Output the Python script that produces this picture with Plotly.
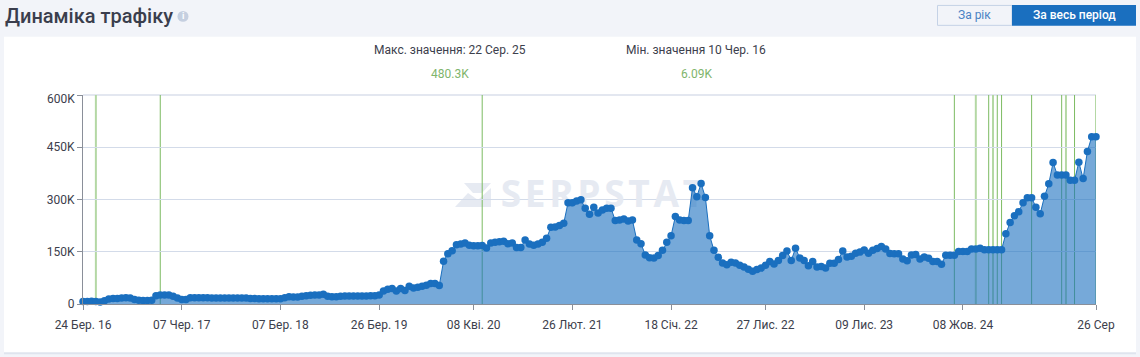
import plotly.graph_objects as go

traffic_start = [7, 7, 8, 7, 6.09, 9, 14, 16, 16, 17, 18, 17, 13, 11, 10, 10, 11, 24, 26, 26, 26, 22, 17, 13, 13, 18,
                 18, 18, 18, 18, 17, 17, 17, 17, 17, 17, 17, 17, 17, 16, 16, 15, 15, 15, 15, 15,
                 15, 18, 21, 20, 20, 22, 24, 25, 26, 26, 28, 22, 21, 21, 22, 23, 23, 23, 23, 23, 23, 24, 24, 26]
traffic_mid = [37, 42, 44.5, 37, 44.5, 39, 51, 46, 48, 51, 54, 59, 59, 53,
               123, 144, 153, 170, 172, 175, 169, 167, 167, 168, 161, 175, 177, 179, 180,
               173, 175, 162, 162, 184, 172, 169, 172, 177, 189, 220, 221, 225, 232, 291,
               291, 296, 299, 275, 258, 278, 261, 270, 275, 275, 240, 241, 244, 238, 241,
               184, 173, 141, 133, 132, 139, 154, 177, 196, 251, 241, 240, 240, 334, 308,
               346, 306, 196, 154, 134, 118, 113, 120, 118, 111, 106, 100, 94, 99]
traffic_end = [103, 111, 122, 115, 125, 139, 152, 125, 160, 132, 125, 110, 122, 106, 108,
               103, 117, 117, 128, 152, 135, 137, 146, 149, 155, 146, 154, 159, 165, 158,
               145, 144, 144, 129, 124, 141, 142, 129, 135, 131, 122, 122, 114, 140, 140,
               140, 151, 151, 151, 158, 158, 160, 156, 156, 156, 156, 156, 202, 234, 253,
               265, 291, 305, 305, 278, 259, 309, 345, 406, 370, 370, 370, 355, 355, 407,
               360, 438, 480.3, 480]
traffic = [v * 1000 for v in traffic_start + traffic_mid + traffic_end]
weeks = list(range(len(traffic)))

x_tick_positions = [0, 23, 46, 69, 91, 114, 137, 159, 182, 205, 236]
x_tick_labels = ["24 Бер. 16", "07 Чер. 17", "07 Бер. 18", "26 Бер. 19", "08 Кві. 20", "26 Лют. 21",
                 "18 Січ. 22", "27 Лис. 22", "09 Лис. 23", "08 Жов. 24", "26 Сер"]
y_tick_values = [0, 150000, 300000, 450000, 600000]
y_tick_labels = ["0", "150K", "300K", "450K", ""]
event_dark = [18, 93, 203, 211, 213, 214, 221, 228, 231]
event_light = [3, 208, 212, 229, 236]

W, H = 1140, 357
L, R, T, B = 83, 1096, 94.5, 304.5
FONT = "Roboto"
TEXT = "#3c404c"


def px(x):
    return (x - L) / (R - L)


def py(y):
    return (B - y) / (B - T)


def rect(x0, y0, x1, y1, fill, line=None, layer="below"):
    return dict(type="rect", xref="paper", yref="paper", x0=px(x0), x1=px(x1), y0=py(y0), y1=py(y1),
                fillcolor=fill, line=dict(color=line or fill, width=1 if line else 0), layer=layer)


def note(x, y, text, size=12, color=TEXT, anchor="center", weight=400):
    return dict(xref="paper", yref="paper", x=px(x), y=py(y), text=text, showarrow=False, xanchor=anchor,
                yanchor="middle", font=dict(family=FONT, size=size, color=color, weight=weight))


def poly(points, fill):
    path = "M " + " L ".join(f"{px(a)} {py(b)}" for a, b in points) + " Z"
    return dict(type="path", xref="paper", yref="paper", path=path, fillcolor=fill, line=dict(width=0), layer="below")


shapes = [
    rect(0, 0, W, H, "#f2f4f9"),
    rect(4, 37, 1136, 355, "#dfe4ee"),
    rect(4, 36, 1136, 353, "#ffffff"),
    rect(937.5, 4.5, 1012, 24.5, "#f2f4f9", "#c5d2e6"),
    rect(1012, 4, 1136, 25, "#1a6fbf"),
    dict(type="circle", xref="paper", yref="paper", x0=px(177.5), x1=px(188.5), y0=py(21), y1=py(10),
         fillcolor="#c5cfe0", line=dict(width=0), layer="below"),
    poly([(464, 183), (491, 183), (482, 193), (473, 193)], "#e6eaf2"),
    poly([(455, 207), (468, 193), (478, 200), (491, 188), (491, 207)], "#e6eaf2"),
    dict(type="line", xref="paper", yref="paper", x0=0, x1=1, y0=1, y1=1,
         line=dict(color="#e3e7f0", width=2), layer="below"),
]
for i in event_dark:
    shapes.append(dict(type="line", xref="x", yref="paper", x0=i, x1=i, y0=0, y1=1,
                       line=dict(color="#7cbb62", width=1), layer="below"))
for i in event_light:
    shapes.append(dict(type="line", xref="x", yref="paper", x0=i, x1=i, y0=0, y1=1,
                       line=dict(color="#b4d8a4", width=2), layer="below"))

annotations = [
    note(3, 15, "Динаміка трафіку", size=20, color="#3a3e4d", anchor="left", weight=500),
    note(183, 15.5, "<b>i</b>", size=9, color="#ffffff"),
    note(974.5, 14.5, "За рік", size=12, color="#4a82c4"),
    note(1074, 14.5, "За весь період", size=12, color="#ffffff", weight=500),
    note(450, 49, "Макс. значення: 22 Сер. 25"),
    note(450, 73, "480.3K", color="#7fb56c"),
    note(696, 49, "Мін. значення 10 Чер. 16"),
    note(696, 73, "6.09K", color="#7fb56c"),
    note(77, 98.5, "600K", anchor="right"),
]

fig = go.Figure()
fig.add_trace(go.Scatter(x=[121], y=[306000], mode="text", text=["S\u200aE\u200aR\u200aP\u200aS\u200aT\u200aA\u200aT"],
                         textfont=dict(family="Open Sans", size=37, color="#e6eaf2", weight="bold"),
                         hoverinfo="skip", showlegend=False))
fig.add_trace(go.Scatter(x=weeks, y=traffic, mode="lines+markers", fill="tozeroy",
                         fillcolor="rgba(26,111,191,0.6)", line=dict(color="#1a6fbf", width=1),
                         marker=dict(color="#1a6fbf", size=7.5), cliponaxis=False, showlegend=False))

fig.update_layout(
    width=W, height=H, autosize=False, showlegend=False,
    margin=dict(l=L, r=W - R, t=T, b=H - B, pad=0),
    paper_bgcolor="#f2f4f9", plot_bgcolor="rgba(0,0,0,0)",
    font=dict(family=FONT, size=12, color=TEXT),
    shapes=shapes, annotations=annotations,
    xaxis=dict(range=[0, len(traffic) - 1], tickmode="array", tickvals=x_tick_positions, ticktext=x_tick_labels,
               showgrid=False, zeroline=False, showline=True, linecolor="#8a8f99", linewidth=1,
               ticks="outside", ticklen=5, tickcolor="#8a8f99", tickangle=0, ticklabelstandoff=5, fixedrange=True),
    yaxis=dict(range=[0, 600000], tickmode="array", tickvals=y_tick_values, ticktext=y_tick_labels,
               showgrid=True, gridcolor="#d3dbe9", gridwidth=1, zeroline=False, showline=True,
               linecolor="#8a8f99", linewidth=1, ticks="outside", ticklen=5, tickcolor="#8a8f99", fixedrange=True),
)

fig.write_html("out.html", config={"displayModeBar": False},
               post_script="document.body.style.margin='0';document.body.style.overflow='hidden';"
                           "document.body.style.background='#f2f4f9';")
